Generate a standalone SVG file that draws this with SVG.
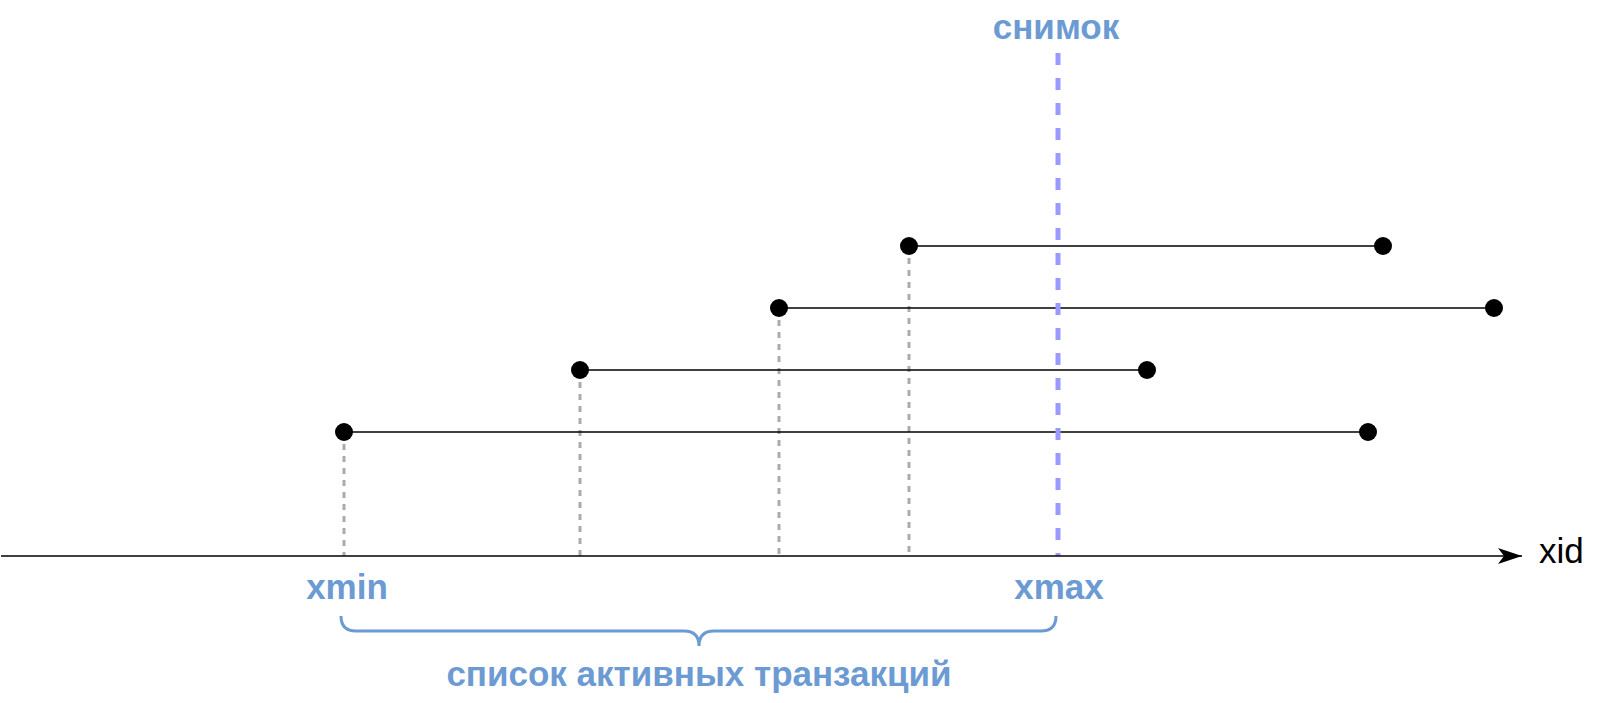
<svg xmlns="http://www.w3.org/2000/svg" width="1600" height="703" viewBox="0 0 1600 703">
<style>
.lbl{font-family:"Liberation Sans",Arial,sans-serif;font-weight:bold;font-size:35px;fill:#6C9BD3;text-anchor:middle}
.tx{stroke:#000;stroke-width:1.3;fill:none}
.drop{stroke:#ABABAB;stroke-width:3;stroke-dasharray:6 6;fill:none}
.dot{fill:#000}
</style>
<defs>
<marker id="arr" markerUnits="userSpaceOnUse" markerWidth="26" markerHeight="20" refX="24" refY="10" orient="auto">
<path d="M0,2 L24,10 L0,18 L6,10 Z" fill="#000"/>
</marker>
</defs>
<rect width="1600" height="703" fill="#fff"/>
<g id="connectors">
<line x1="344" y1="432" x2="344" y2="556" class="drop"/>
<line x1="580" y1="370" x2="580" y2="556" class="drop"/>
<line x1="779" y1="308" x2="779" y2="556" class="drop"/>
<line x1="909" y1="246" x2="909" y2="556" class="drop"/>
<line x1="909" y1="246" x2="1383" y2="246" class="tx"/>
<line x1="779" y1="308" x2="1494" y2="308" class="tx"/>
<line x1="580" y1="370" x2="1147" y2="370" class="tx"/>
<line x1="344" y1="432" x2="1368" y2="432" class="tx"/>
<line x1="1058" y1="53" x2="1058" y2="556" stroke="#9999FF" stroke-width="5" stroke-dasharray="12 13"/>
<line x1="1" y1="556" x2="1522" y2="556" class="tx" marker-end="url(#arr)"/>
<path d="M341,616 Q341,631 356,631 L684,631 Q699,631 699,646 Q699,631 714,631 L1041,631 Q1056,631 1056,616" fill="none" stroke="#6C9BD3" stroke-width="3"/>
</g>
<g id="t1"><circle cx="909" cy="246" r="9" class="dot"/><circle cx="1383" cy="246" r="9" class="dot"/></g>
<g id="t2"><circle cx="779" cy="308" r="9" class="dot"/><circle cx="1494" cy="308" r="9" class="dot"/></g>
<g id="t3"><circle cx="580" cy="370" r="9" class="dot"/><circle cx="1147" cy="370" r="9" class="dot"/></g>
<g id="t4"><circle cx="344" cy="432" r="9" class="dot"/><circle cx="1368" cy="432" r="9" class="dot"/></g>
<g id="snapshot"><text x="1056" y="39" class="lbl">снимок</text></g>
<g id="xmin"><text x="347" y="599" class="lbl">xmin</text></g>
<g id="xmax"><text x="1059" y="599" class="lbl">xmax</text></g>
<g id="list"><text x="699" y="686" class="lbl">список активных транзакций</text></g>
<g id="xid"><text x="1539" y="563" font-family="Liberation Sans,Arial,sans-serif" font-size="35" fill="#000">xid</text></g>
</svg>
